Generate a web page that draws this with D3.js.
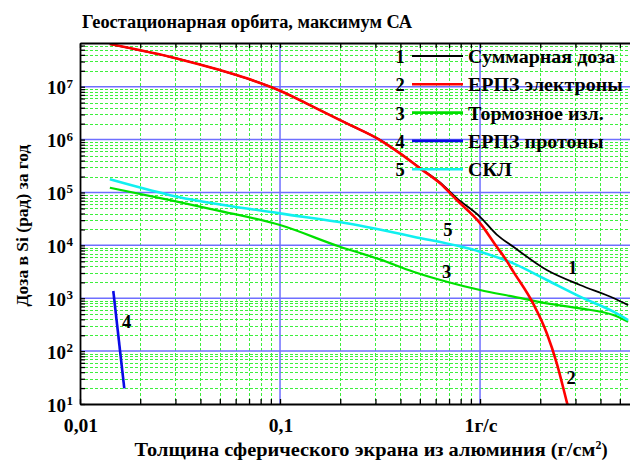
<!DOCTYPE html>
<html>
<head>
<meta charset="utf-8">
<script src="https://cdn.jsdelivr.net/npm/d3@7"></script>
<style>
  html, body { margin: 0; padding: 0; background: #fff; }
  svg { display: block; }
</style>
</head>
<body>
<svg id="chart" width="630" height="461"></svg>
<script>
// Dose behind a spherical aluminium shield, GEO orbit, solar maximum
const titleText = "Геостационарная орбита, максимум СА";
const yAxisTitle = "Доза в Si (рад) за год";
const xAxisTitle = "Толщина сферического экрана из алюминия (г/см";

const xTickValues = [0.01, 0.1, 1];
const xTickLabels = ["0,01", "0,1", "1г/с"];
const yTickExponents = [1, 2, 3, 4, 5, 6, 7];

// 1 — total dose
const totalX = [0.0141, 0.0304, 0.0501, 0.0682, 0.1, 0.1467, 0.2156, 0.316, 0.398, 0.501, 0.631, 0.765, 1.0, 1.212, 1.467, 2.156, 3.16, 4.64, 5.5];
const totalY = [6.4e7, 3.43e7, 2.06e7, 1.44e7, 8.4e6, 4.18e6, 2.03e6, 9.9e5, 5.55e5, 2.92e5, 1.54e5, 7.8e4, 3.47e4, 1.6e4, 9.4e3, 3.41e3, 1.78e3, 1.01e3, 7.4e2];
// 2 — trapped electrons
const electronsX = [0.0141, 0.0304, 0.0501, 0.0682, 0.1, 0.1467, 0.2156, 0.316, 0.398, 0.501, 0.631, 0.765, 1.0, 1.212, 1.334, 1.467, 1.847, 2.156, 2.419, 2.714, 2.8];
const electronsY = [6.4e7, 3.43e7, 2.06e7, 1.44e7, 8.4e6, 4.17e6, 2.02e6, 9.8e5, 5.48e5, 2.86e5, 1.49e5, 7.2e4, 2.64e4, 9.4e3, 5.67e3, 3.18e3, 7.8e2, 2.17e2, 58.7, 11, 7];
// 3 — bremsstrahlung
const bremsX = [0.0141, 0.0282, 0.0478, 0.1, 0.1995, 0.316, 0.464, 0.682, 1.0, 1.467, 2.156, 3.16, 4.64, 5.5];
const bremsY = [1.23e5, 7.18e4, 4.65e4, 2.42e4, 9.4e3, 5.43e3, 3.17e3, 2.05e3, 1.43e3, 1.07e3, 8.0e2, 6.44e2, 4.81e2, 3.6e2];
// 4 — trapped protons
const protonsX = [0.01467, 0.01665];
const protonsY = [1.37e3, 19.8];
// 5 — solar cosmic rays
const sclX = [0.0141, 0.0282, 0.1, 0.2156, 0.464, 1.0, 1.467, 2.156, 3.16, 4.64, 5.5];
const sclY = [1.77e5, 8.9e4, 4.03e4, 2.61e4, 1.46e4, 7.57e3, 4.57e3, 2.21e3, 1.07e3, 5.56e2, 3.87e2];

const seriesNames = ["Суммарная доза", "ЕРПЗ электроны", "Тормозное изл.", "ЕРПЗ протоны", "СКЛ"];
const seriesColors = ["#000000", "#ff0000", "#00e000", "#0a0ae6", "#10f0f0"];
const seriesWidths = [1.8, 2.6, 2.2, 2.6, 2.6];

// curve number labels: [text, x, y]
const curveTags = [["1", 2.9, 3.7e3], ["2", 2.85, 31], ["3", 0.68, 3.17e3], ["4", 0.0171, 360], ["5", 0.69, 1.95e4]];

const FONT = "'Liberation Serif', 'DejaVu Serif', 'Times New Roman', serif";
const svg = d3.select("#chart")
  .attr("font-family", FONT).attr("font-weight", "bold");
const plot = { left: 80, right: 630, top: 43, bottom: 404 };

// widen a text horizontally by factor k, keeping its glyph height
function widen(sel, k) {
  sel.each(function () {
    const w = this.getComputedTextLength();
    d3.select(this).attr("textLength", w * k).attr("lengthAdjust", "spacingAndGlyphs");
  });
}

const x = d3.scaleLog().domain([0.01, 5.62]).range([plot.left, plot.right]);
const y = d3.scaleLog().domain([10, 6.71e7]).range([plot.bottom, plot.top]);

svg.append("defs").append("clipPath").attr("id", "plotClip")
  .append("rect")
  .attr("x", plot.left).attr("y", plot.top)
  .attr("width", plot.right - plot.left).attr("height", plot.bottom - plot.top);

// minor / major positions along each axis
const xMinor = [], xMajor = [];
[0.01, 0.1, 1].forEach(d => {
  for (let m = 1; m <= 9; m++) {
    const v = d * m;
    if (v < x.domain()[0] || v > x.domain()[1]) continue;
    (m === 1 ? xMajor : xMinor).push(v);
  }
});
const yMinor = [], yMajor = [];
for (let e = 1; e <= 7; e++) {
  for (let m = 1; m <= 9; m++) {
    const v = m * Math.pow(10, e);
    if (v < y.domain()[0] || v > y.domain()[1]) continue;
    (m === 1 ? yMajor : yMinor).push(v);
  }
}

const grid = svg.append("g");
grid.selectAll(".vmin").data(xMinor).join("line")
  .attr("x1", d => Math.round(x(d)) + 0.5).attr("x2", d => Math.round(x(d)) + 0.5)
  .attr("y1", plot.top).attr("y2", plot.bottom)
  .attr("stroke", "#3cf03c").attr("stroke-width", 1).attr("stroke-dasharray", "3,2");
grid.selectAll(".hmin").data(yMinor).join("line")
  .attr("y1", d => Math.round(y(d)) + 0.5).attr("y2", d => Math.round(y(d)) + 0.5)
  .attr("x1", plot.left).attr("x2", plot.right)
  .attr("stroke", "#3cf03c").attr("stroke-width", 1).attr("stroke-dasharray", "3,2");
grid.selectAll(".vmaj").data(xMajor.filter(d => d > 0.01)).join("line")
  .attr("x1", d => x(d)).attr("x2", d => x(d))
  .attr("y1", plot.top).attr("y2", plot.bottom)
  .attr("stroke", "#6f6fff").attr("stroke-width", 1.5);
grid.selectAll(".hmaj").data(yMajor.filter(d => d > 10)).join("line")
  .attr("y1", d => y(d)).attr("y2", d => y(d))
  .attr("x1", plot.left).attr("x2", plot.right)
  .attr("stroke", "#6f6fff").attr("stroke-width", 1.5);

// curves
const smooth = d3.line().x(d => x(d[0])).y(d => y(d[1])).curve(d3.curveMonotoneX);
const straight = d3.line().x(d => x(d[0])).y(d => y(d[1]));
const seriesData = [
  d3.zip(totalX, totalY),
  d3.zip(electronsX, electronsY),
  d3.zip(bremsX, bremsY),
  d3.zip(protonsX, protonsY),
  d3.zip(sclX, sclY)
];
const curves = svg.append("g").attr("clip-path", "url(#plotClip)");
// draw order: protons, bremsstrahlung, SCL, total, electrons
[3, 2, 4, 0, 1].forEach(i => {
  curves.append("path")
    .attr("d", i === 3 ? straight(seriesData[i]) : smooth(seriesData[i]))
    .attr("fill", "none")
    .attr("stroke", seriesColors[i])
    .attr("stroke-width", seriesWidths[i])
    .attr("stroke-linejoin", "round");
});

// axes: ticks pointing into the plot
const allX = xMajor.concat(xMinor);
const allY = yMajor.concat(yMinor);
const axisStyle = g => {
  g.selectAll("text").remove();
  g.select(".domain").attr("stroke", "#000").attr("stroke-width", 1.8);
  g.selectAll(".tick line").attr("stroke", "#000").attr("stroke-width", 1.3);
};
svg.append("g").attr("transform", `translate(0,${plot.bottom})`)
  .call(d3.axisBottom(x).tickValues(allX).tickSizeInner(-5).tickSizeOuter(0).tickFormat(""))
  .call(axisStyle);
svg.append("g").attr("transform", `translate(0,${plot.top})`)
  .call(d3.axisTop(x).tickValues(allX).tickSizeInner(-5).tickSizeOuter(0).tickFormat(""))
  .call(axisStyle);
svg.append("g").attr("transform", `translate(${plot.left},0)`)
  .call(d3.axisLeft(y).tickValues(allY).tickSizeInner(-5).tickSizeOuter(0).tickFormat(""))
  .call(axisStyle);

// x tick labels
svg.append("g").selectAll("text").data(xTickValues).join("text")
  .attr("x", d => x(d) + 1).attr("y", 432)
  .attr("text-anchor", "middle").attr("font-size", 18.5)
  .text((d, i) => xTickLabels[i])
  .call(widen, 1.06);

// y tick labels 10^n
const yl = svg.append("g").selectAll("text").data(yTickExponents).join("text")
  .attr("x", 73).attr("y", d => y(Math.pow(10, d)) + 7.5)
  .attr("text-anchor", "end").attr("font-size", 19);
yl.append("tspan").text("10");
yl.append("tspan").attr("dy", -6.5).attr("font-size", 13).attr("dx", 0.5).text(d => d);

// title and axis titles
svg.append("text").attr("x", 82).attr("y", 28).attr("font-size", 18).text(titleText)
  .call(widen, 1.02);
svg.append("text")
  .attr("transform", `translate(28,${(plot.top + plot.bottom) / 2 + 2}) rotate(-90)`)
  .attr("text-anchor", "middle").attr("font-size", 17.5).text(yAxisTitle);
const xt = svg.append("text").attr("x", 371).attr("y", 456)
  .attr("text-anchor", "middle").attr("font-size", 18.5);
xt.append("tspan").text(xAxisTitle).call(widen, 1.1);
xt.append("tspan").attr("dy", -7).attr("font-size", 12).text("2");
xt.append("tspan").attr("dy", 7).text(")");

// curve number tags
svg.append("g").selectAll("text").data(curveTags).join("text")
  .attr("x", d => x(d[1])).attr("y", d => y(d[2]) + 6)
  .attr("text-anchor", "middle").attr("font-size", 18.5)
  .text(d => d[0]);

// legend
const legend = svg.append("g");
seriesNames.forEach((name, i) => {
  const cy = 56 + i * 28.3;
  legend.append("text").attr("x", 400).attr("y", cy + 7).attr("text-anchor", "middle")
    .attr("font-size", 18.5).text(String(i + 1));
  legend.append("line").attr("x1", 412).attr("x2", 463).attr("y1", cy).attr("y2", cy)
    .attr("stroke", seriesColors[i]).attr("stroke-width", i === 0 ? 2 : 2.6);
  legend.append("text").attr("x", 468).attr("y", cy + 7).attr("font-size", 18.5).text(name)
    .call(widen, 1.08);
});
</script>
</body>
</html>
